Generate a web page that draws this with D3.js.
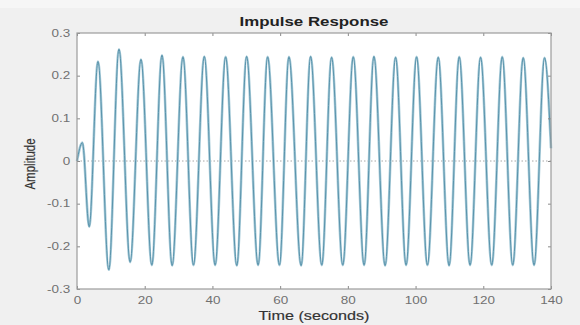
<!DOCTYPE html>
<html>
<head>
<meta charset="utf-8">
<script src="https://cdn.jsdelivr.net/npm/d3@7"></script>
<style>
  body { margin: 0; background: #f0f0f0; }
  text { font-family: "Liberation Sans", Arial, sans-serif; }
</style>
</head>
<body>
<div id="chart"></div>
<script>
// impulse response: peaks and troughs (time, amplitude)
var peakTimes = [1.6, 6.2, 12.4, 18.9, 25.1, 31.3, 37.6, 43.9, 50.1, 56.3, 62.6, 69.0, 75.2, 81.6, 87.7, 94.1, 100.3, 106.7, 112.9, 119.2, 125.6, 131.8, 138.1];
var peakValues = [0.043, 0.233, 0.262, 0.238, 0.248, 0.244, 0.245, 0.244, 0.245, 0.244, 0.244, 0.245, 0.243, 0.244, 0.245, 0.243, 0.244, 0.243, 0.244, 0.243, 0.244, 0.242, 0.242];
var troughTimes = [3.6, 9.4, 15.7, 22.1, 28.1, 34.4, 40.8, 47.2, 53.5, 59.8, 66.2, 72.3, 78.5, 84.8, 91.0, 97.2, 103.5, 109.9, 116.1, 122.5, 128.7, 135.0];
var troughValues = [-0.154, -0.255, -0.237, -0.244, -0.245, -0.244, -0.244, -0.245, -0.244, -0.244, -0.245, -0.244, -0.244, -0.244, -0.245, -0.244, -0.244, -0.245, -0.244, -0.244, -0.244, -0.244];
var startPoint = [0, 0];
var endPoint = [140, 0.03];

var xTicks = [0, 20, 40, 60, 80, 100, 120, 140];
var yTicks = [-0.3, -0.2, -0.1, 0, 0.1, 0.2, 0.3];

var width = 580, height = 325;
var pLeft = 77, pRight = 551, pTop = 33, pBottom = 289;
var stretch = "scale(1.35,1)"; // the picture's text is wide

var pts = [startPoint];
peakTimes.forEach(function(t, i) { pts.push([t, peakValues[i]]); });
troughTimes.forEach(function(t, i) { pts.push([t, troughValues[i]]); });
pts.push(endPoint);
pts.sort(function(a, b) { return a[0] - b[0]; });

var svg = d3.select("#chart").append("svg")
  .attr("width", width)
  .attr("height", height);

svg.append("rect").attr("width", width).attr("height", height).style("fill", "#f0f0f0");
svg.append("rect").attr("width", width).attr("height", 8).style("fill", "#f6f6f6");

var x = d3.scaleLinear().domain([0, 140]).range([pLeft, pRight]);
var y = d3.scaleLinear().domain([-0.3, 0.3]).range([pBottom, pTop]);

svg.append("rect")
  .attr("x", pLeft).attr("y", pTop)
  .attr("width", pRight - pLeft).attr("height", pBottom - pTop)
  .style("fill", "#ffffff");

// zero line
svg.append("line")
  .attr("x1", x(0)).attr("x2", x(140))
  .attr("y1", y(0)).attr("y2", y(0))
  .style("stroke", "#a8a8a8")
  .style("stroke-width", 1)
  .style("stroke-dasharray", "1.5,2");

var line = d3.line()
  .x(function(d) { return x(d[0]); })
  .y(function(d) { return y(d[1]); })
  .curve(d3.curveMonotoneX);

svg.append("path")
  .datum(pts)
  .attr("d", line)
  .style("fill", "none")
  .style("stroke", "#a6cad8")
  .style("stroke-width", 2.6);

svg.append("path")
  .datum(pts)
  .attr("d", line)
  .style("fill", "none")
  .style("stroke", "#5a94ac")
  .style("stroke-width", 1);

function styleAxis(g, labels) {
  g.select(".domain").remove();
  g.selectAll(".tick line").style("stroke", "#8a8a8a");
  if (!labels) { g.selectAll(".tick text").remove(); return; }
  g.selectAll(".tick text")
    .style("fill", "#707070")
    .style("font-size", "10px");
}

svg.append("g")
  .attr("transform", "translate(0," + pBottom + ")")
  .call(d3.axisBottom(x).tickValues(xTicks).tickSizeInner(-3).tickSizeOuter(0).tickPadding(8))
  .call(styleAxis, true)
  .selectAll(".tick text").attr("transform", stretch);

svg.append("g")
  .attr("transform", "translate(0," + pTop + ")")
  .call(d3.axisTop(x).tickValues(xTicks).tickSizeInner(-3).tickSizeOuter(0))
  .call(styleAxis, false);

svg.append("g")
  .attr("transform", "translate(" + pLeft + ",0)")
  .call(d3.axisLeft(y).tickValues(yTicks).tickSizeInner(-3).tickSizeOuter(0).tickPadding(5)
    .tickFormat(function(d) { return d === 0 ? "0" : d.toFixed(1); }))
  .call(styleAxis, true)
  .selectAll(".tick text").attr("transform", stretch);

svg.append("g")
  .attr("transform", "translate(" + pRight + ",0)")
  .call(d3.axisRight(y).tickValues(yTicks).tickSizeInner(-3).tickSizeOuter(0))
  .call(styleAxis, false);

// axes box
svg.append("rect")
  .attr("x", pLeft).attr("y", pTop)
  .attr("width", pRight - pLeft).attr("height", pBottom - pTop)
  .style("fill", "none")
  .style("stroke", "#9c9c9c")
  .style("stroke-width", 1.2);

svg.append("text")
  .attr("transform", "translate(" + ((pLeft + pRight) / 2) + ",26) " + stretch)
  .attr("text-anchor", "middle")
  .style("font-size", "12.5px")
  .style("font-weight", "bold")
  .style("fill", "#222")
  .text("Impulse Response");

svg.append("text")
  .attr("transform", "translate(" + ((pLeft + pRight) / 2) + ",320) " + stretch)
  .attr("text-anchor", "middle")
  .style("font-size", "12px")
  .style("fill", "#333")
  .style("stroke", "#333")
  .style("stroke-width", 0.15)
  .text("Time (seconds)");

svg.append("text")
  .attr("transform", "translate(35,164) " + stretch + " rotate(-90)")
  .attr("text-anchor", "middle")
  .style("font-size", "11.5px")
  .style("fill", "#333")
  .style("stroke", "#333")
  .style("stroke-width", 0.15)
  .text("Amplitude");
</script>
</body>
</html>
